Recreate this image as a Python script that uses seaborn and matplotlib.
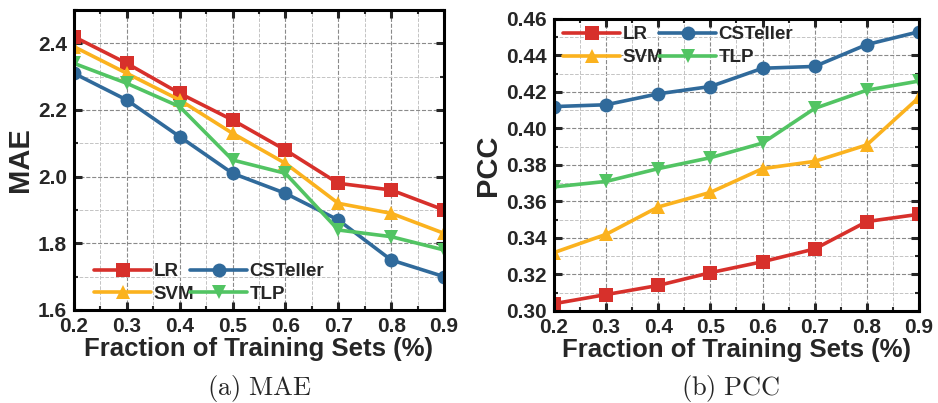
import pandas as pd
import matplotlib.pyplot as plt
import seaborn as sns
from matplotlib.ticker import MultipleLocator

sns.set_theme(style="ticks")
plt.rcParams['font.family'] = ['Liberation Sans', 'DejaVu Sans']
plt.rcParams['font.weight'] = 'bold'
plt.rcParams['mathtext.fontset'] = 'cm'

# data
fractions = [0.2, 0.3, 0.4, 0.5, 0.6, 0.7, 0.8, 0.9]
methods = ['LR', 'SVM', 'CSTeller', 'TLP']

mae_lr = [2.42, 2.34, 2.25, 2.17, 2.08, 1.98, 1.96, 1.90]
mae_svm = [2.39, 2.31, 2.23, 2.13, 2.04, 1.92, 1.89, 1.83]
mae_csteller = [2.31, 2.23, 2.12, 2.01, 1.95, 1.87, 1.75, 1.70]
mae_tlp = [2.34, 2.28, 2.21, 2.05, 2.01, 1.84, 1.82, 1.78]

pcc_lr = [0.304, 0.309, 0.314, 0.321, 0.327, 0.334, 0.349, 0.353]
pcc_svm = [0.332, 0.342, 0.357, 0.365, 0.378, 0.382, 0.391, 0.417]
pcc_csteller = [0.412, 0.413, 0.419, 0.423, 0.433, 0.434, 0.446, 0.453]
pcc_tlp = [0.368, 0.371, 0.378, 0.384, 0.392, 0.411, 0.421, 0.426]

colors = {'LR': '#d7302b', 'SVM': '#fbb21e', 'CSTeller': '#306a9b', 'TLP': '#52c463'}
markers = {'LR': 's', 'SVM': '^', 'CSTeller': 'o', 'TLP': 'v'}


def to_long(series):
    rows = []
    for name, vals in zip(methods, series):
        for x, v in zip(fractions, vals):
            rows.append({'Fraction': x, 'Value': v, 'Method': name})
    return pd.DataFrame(rows)


df_mae = to_long([mae_lr, mae_svm, mae_csteller, mae_tlp])
df_pcc = to_long([pcc_lr, pcc_svm, pcc_csteller, pcc_tlp])

fig = plt.figure(figsize=(9.38, 4.03), dpi=100)
ax1 = fig.add_axes([0.0788, 0.2308, 0.3946, 0.7444])
ax2 = fig.add_axes([0.5906, 0.2283, 0.3891, 0.7246])


def draw(ax, df, ylabel, ylim, ymajor, yminor, fmt, legend_loc, legend_anchor):
    sns.lineplot(data=df, x='Fraction', y='Value', hue='Method', style='Method',
                 palette=colors, markers=markers, dashes=False, ax=ax,
                 linewidth=2.6, markersize=10, markeredgewidth=0, legend=False)
    ax.set_xlim(0.2, 0.9)
    ax.set_ylim(*ylim)
    ax.xaxis.set_major_locator(MultipleLocator(0.1))
    ax.xaxis.set_minor_locator(MultipleLocator(0.05))
    ax.yaxis.set_major_locator(MultipleLocator(ymajor))
    ax.yaxis.set_minor_locator(MultipleLocator(yminor))
    ax.yaxis.set_major_formatter(plt.FormatStrFormatter(fmt))
    ax.grid(True, which='major', linestyle='--', color='#8a8a8a', linewidth=0.8)
    ax.grid(True, which='minor', linestyle='--', color='#c4c4c4', linewidth=0.7)
    ax.set_axisbelow(True)
    for s in ax.spines.values():
        s.set_linewidth(2.2)
        s.set_color('black')
    ax.tick_params(which='major', direction='in', length=6, width=2.2,
                   top=True, right=True, labelsize=15, pad=5)
    ax.tick_params(which='minor', direction='in', length=3, width=1.5,
                   top=True, right=True)
    for lab in ax.get_xticklabels() + ax.get_yticklabels():
        lab.set_fontweight('bold')
    ax.set_xlabel('Fraction of Training Sets (%)', fontsize=18.5, fontweight='bold', labelpad=1)
    ax.set_ylabel(ylabel, fontsize=21, fontweight='bold', labelpad=3)

    handles = []
    for name in methods:
        h, = ax.plot([], [], color=colors[name], marker=markers[name],
                     linewidth=2.6, markersize=10, markeredgewidth=0, label=name)
        handles.append(h)
    ax.legend(handles=handles, ncol=2, frameon=False, loc=legend_loc,
              bbox_to_anchor=legend_anchor, handlelength=3.0,
              handletextpad=0.15, columnspacing=-0.2, labelspacing=0.3,
              borderaxespad=0.3, prop={'weight': 'bold', 'size': 13.5})


draw(ax1, df_mae, 'MAE', (1.6, 2.5), 0.2, 0.1, '%.1f', 'lower left', (0.02, -0.02))
draw(ax2, df_pcc, 'PCC', (0.30, 0.46), 0.02, 0.01, '%.2f', 'upper left', (-0.01, 1.02))

fig.text(0.2765, 0.037, r'$\mathrm{(a)\ MAE}$', ha='center', va='center', fontsize=19)
fig.text(0.7785, 0.037, r'$\mathrm{(b)\ PCC}$', ha='center', va='center', fontsize=19)

fig.savefig('out.png', dpi=100)
